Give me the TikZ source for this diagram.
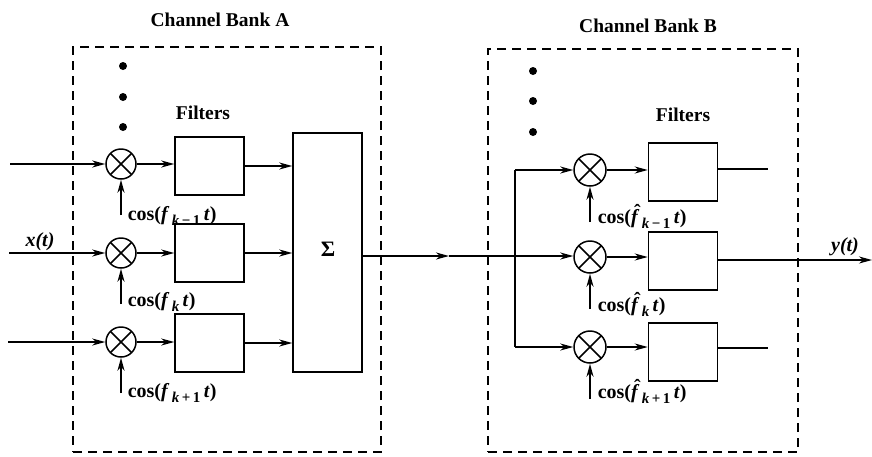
\documentclass[tikz,border=0pt]{standalone}
\usepackage{fontspec}
\setmainfont{Liberation Serif}
\usetikzlibrary{arrows.meta}
\newcommand{\sbx}[1]{\raisebox{-5pt}{\fontsize{15}{17}\selectfont #1}}
\newcommand{\hatf}{\makebox[0pt][l]{\hspace{3pt}\raisebox{5pt}{ˆ}}\textit{f}}
\begin{document}
\begin{tikzpicture}[x=1pt,y=-1pt,line width=1.5pt,
  >={Stealth[length=13pt,width=7pt,inset=4pt]},
  lbl/.style={font=\fontsize{19.5}{22}\selectfont\bfseries, inner sep=0pt},
  sublbl/.style={font=\fontsize{20}{22}\selectfont\bfseries, inner sep=0pt, anchor=west},
  bank/.style={draw, dashed, dash pattern=on 9pt off 6pt, line width=1.5pt},
  filt/.style={draw, line width=1.5pt, minimum width=69pt, minimum height=58pt, inner sep=0pt},
  mixer/.style={circle, draw, line width=1.5pt, minimum size=#1, inner sep=0pt,
    path picture={\draw[line width=1.5pt] (path picture bounding box.north west)--(path picture bounding box.south east)
      (path picture bounding box.north east)--(path picture bounding box.south west);}},
  dotc/.style={circle, fill, minimum size=8pt, inner sep=0pt}]
\useasboundingbox (0,0) rectangle (872,456);

% banks
\node[bank, minimum width=308pt, minimum height=405pt, inner sep=0pt] (bankA) at (227,249.5) {};
\node[bank, minimum width=310pt, minimum height=403pt, inner sep=0pt] (bankB) at (643,250.5) {};
\node[lbl] (titleA) at (220,20) {Channel Bank A};
\node[lbl] (titleB) at (648,26) {Channel Bank B};
\node[lbl] (filtlA) at (203,113) {Filters};
\node[lbl] (filtlB) at (683,115) {Filters};

% dots
\node[dotc] (dA1) at (123,66) {};
\node[dotc] (dA2) at (123,97) {};
\node[dotc] (dA3) at (123,127) {};
\node[dotc] (dB1) at (533,71) {};
\node[dotc] (dB2) at (533,101) {};
\node[dotc] (dB3) at (533,132) {};

% bank A
\node[mixer=30pt] (mA1) at (121,164) {};
\node[mixer=30pt] (mA2) at (121,253) {};
\node[mixer=30pt] (mA3) at (121,342) {};
\node[filt] (fA1) at (209.5,166) {};
\node[filt] (fA2) at (209.5,253) {};
\node[filt] (fA3) at (209.5,343) {};
\node[draw, line width=1.5pt, minimum width=69pt, minimum height=239pt, inner sep=0pt] (sum) at (327.5,252.5) {};
\node[lbl, font=\fontsize{22}{24}\selectfont\bfseries] (sig) at (328,249) {Σ};

\coordinate (inA1) at (10,164);
\coordinate (inA2) at (9,253);
\coordinate (inA3) at (8,342);
\node[lbl, font=\fontsize{20}{22}\selectfont\bfseries\itshape] (xt) at (40,242) {x(t)};

\foreach \i in {1,2,3}{
  \draw[->] (inA\i) -- (mA\i.west);
  \draw[->] (mA\i.east) -- (mA\i.east -| fA\i.west);
  \draw[->] (fA\i.east) -- (fA\i.east -| sum.west);
  \coordinate (cA\i) at ([yshift=-51pt]mA\i.center);
  \draw[->] (cA\i) -- (mA\i.south);
}
\node[sublbl] (cosA1) at (127,216) {cos(\textit{f}\sbx{\,\textit{k}\,−\,1}\,\textit{t})};
\node[sublbl] (cosA2) at (127,302) {cos(\textit{f}\sbx{\,\textit{k}}\,\textit{t})};
\node[sublbl] (cosA3) at (127,393) {cos(\textit{f}\sbx{\,\textit{k}\,+\,1}\,\textit{t})};

% link
\coordinate (mid) at (449,256);
\coordinate (jn) at (515,256);
\draw[->] (sum.east |- mid) -- (mid);
\draw (mid) -- (jn);

% bank B
\node[mixer=32pt] (mB1) at (590,170) {};
\node[mixer=32pt] (mB2) at (590,257) {};
\node[mixer=32pt] (mB3) at (590,347) {};
\node[filt] (fB1) at (683,172) {};
\node[filt] (fB2) at (683,261) {};
\node[filt] (fB3) at (683,352) {};
\coordinate (jtop) at (515,170);
\coordinate (jbot) at (515,347);
\draw (jtop) -- (jbot);
\draw[->] (jtop) -- (mB1.west);
\draw[->] (jn) -- (jn -| mB2.west);
\draw[->] (jbot) -- (mB3.west);
\foreach \i in {1,2,3}{
  \draw[->] (mB\i.east) -- (mB\i.east -| fB\i.west);
  \coordinate (cB\i) at ([yshift=-52pt]mB\i.center);
  \draw[->] (cB\i) -- (mB\i.south);
}
\coordinate (oB1) at (768,169);
\coordinate (oB3) at (768,348);
\coordinate (oB2) at (872,260);
\draw (fB1.east |- oB1) -- (oB1);
\draw (fB3.east |- oB3) -- (oB3);
\draw[->] (fB2.east |- oB2) -- (oB2);
\node[lbl, font=\fontsize{20}{22}\selectfont\bfseries\itshape] (yt) at (845,247) {y(t)};

\node[sublbl] (cosB1) at (597,216) {cos(\hatf\sbx{\,\textit{k}\,−\,1}\,\textit{t})};
\node[sublbl] (cosB2) at (597,304) {cos(\hatf\sbx{\,\textit{k}}\,\textit{t})};
\node[sublbl] (cosB3) at (597,391) {cos(\hatf\sbx{\,\textit{k}\,+\,1}\,\textit{t})};
\end{tikzpicture}
\end{document}
